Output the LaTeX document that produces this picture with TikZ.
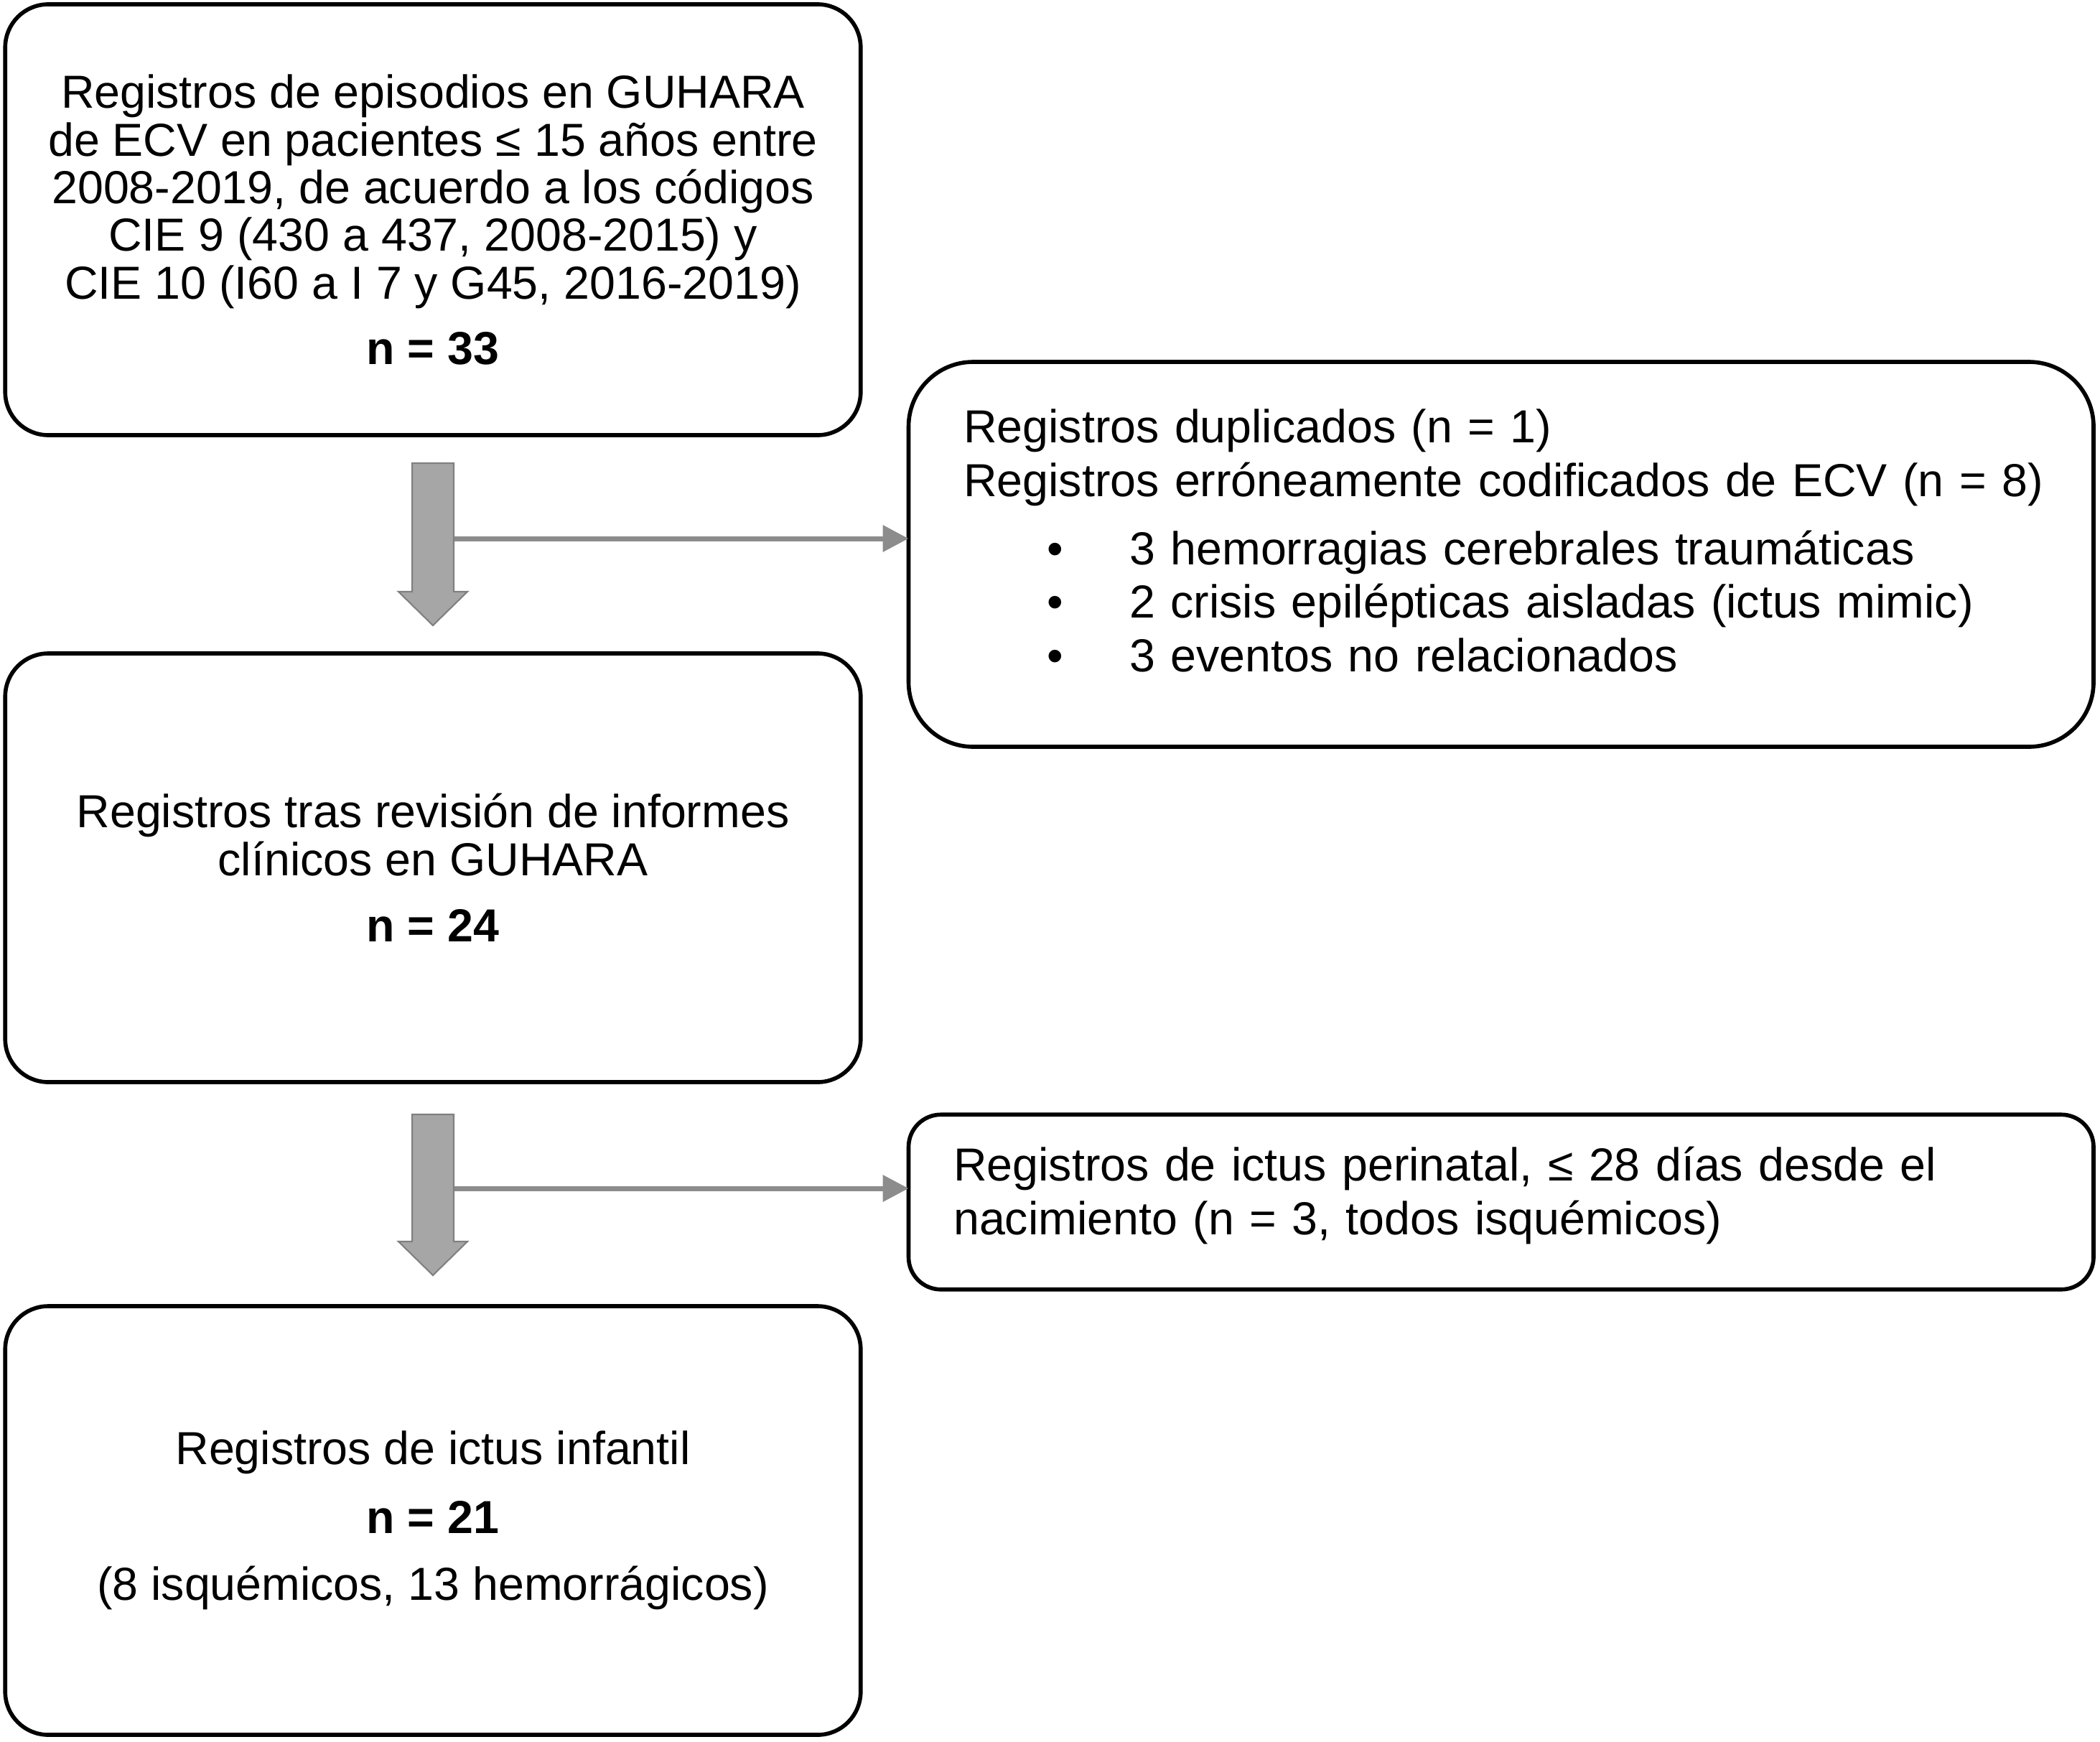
\documentclass[tikz,border=0pt]{standalone}
\usepackage{fontspec}
\setmainfont{Liberation Sans}
\usepackage{tikz}
\usetikzlibrary{arrows.meta,calc,positioning}
\definecolor{ink}{HTML}{000000}
\definecolor{arrowfill}{HTML}{A6A6A6}
\definecolor{arrowline}{HTML}{808080}
\definecolor{connline}{HTML}{8C8C8C}

\begin{document}
\begin{tikzpicture}[>=Latex,
  mainbox/.style={draw=ink,line width=1.6pt,outer sep=0pt,rounded corners=0.6cm,minimum width=11.915cm,minimum height=5.97cm,align=center,font=\fontsize{18.35}{18.9}\selectfont},
  sidebox/.style={draw=ink,line width=1.6pt,outer sep=0pt,align=left,minimum width=16.505cm,font=\fontsize{18.35}{21.2}\selectfont},
  blockarrow/.style={fill=arrowfill,draw=arrowline,line width=0.6pt,line join=miter},
  thinarrow/.style={draw=connline,line width=0.07cm,-{Triangle[length=0.36cm,width=0.36cm]}}]
\useasboundingbox (0,0) rectangle (29.25,-24.25);

% left column
\node[mainbox,minimum height=6cm] (reg) at (6.03,-3.06) {Registros de episodios en GUHARA\\de ECV en pacientes ≤ 15 años entre\\2008-2019, de acuerdo a los códigos\\CIE 9 (430 a 437, 2008-2015) y\\CIE 10 (I60 a I 7 y G45, 2016-2019)\\[7pt]\textbf{n = 33}};
\node[mainbox] (rev) at (6.03,-12.085) {Registros tras revisión de informes\\clínicos en GUHARA\\[7.5pt]\textbf{n = 24}};
\node[mainbox] (res) at (6.03,-21.175) {Registros de ictus infantil\\[8.3pt]\textbf{n = 21}\\[7.8pt](8 isquémicos, 13 hemorrágicos)};

% excluded records
\node[sidebox,rounded corners=0.9cm,text width=14.97cm,inner xsep=0.765cm,minimum height=5.36cm] (dup) at (20.9075,-7.72) {Registros duplicados (n = 1)\\\mbox{Registros erróneamente codificados de ECV (n = 8)}\\[5.8pt]
\hspace*{1.165cm}\makebox[1.145cm][l]{\textbullet}3 hemorragias cerebrales traumáticas\\
\hspace*{1.165cm}\makebox[1.145cm][l]{\textbullet}2 crisis epilépticas aisladas (ictus mimic)\\
\hspace*{1.165cm}\makebox[1.145cm][l]{\textbullet}3 eventos no relacionados\rule[-11pt]{0pt}{1pt}};
\node[sidebox,rounded corners=0.45cm,text width=15.25cm,inner xsep=0.625cm,minimum height=2.435cm] (peri) at (20.9075,-16.74) {Registros de ictus perinatal, ≤ 28 días desde el\\nacimiento (n = 3, todos isquémicos)\rule[-9pt]{0pt}{1pt}};

% arrows
\coordinate (a1top) at ($(reg.south)+(0,-0.39)$);
\coordinate (a1tip) at ($(rev.north)+(0,0.39)$);
\coordinate (h1) at ([shift={(0.29,-1.05)}]a1top);
\draw[thinarrow] (h1) -- (h1 -| dup.west);
\draw[blockarrow] ([xshift=-0.29cm]a1top) -- ([xshift=0.29cm]a1top) -- ([shift={(0.29,0.47)}]a1tip) -- ([shift={(0.48,0.47)}]a1tip) -- (a1tip) -- ([shift={(-0.48,0.47)}]a1tip) -- ([shift={(-0.29,0.47)}]a1tip) -- cycle;

\coordinate (a2top) at ($(rev.south)+(0,-0.45)$);
\coordinate (a2tip) at ($(res.north)+(0,0.43)$);
\coordinate (h2) at ([shift={(0.29,-1.03)}]a2top);
\draw[thinarrow] (h2) -- (h2 -| peri.west);
\draw[blockarrow] ([xshift=-0.29cm]a2top) -- ([xshift=0.29cm]a2top) -- ([shift={(0.29,0.47)}]a2tip) -- ([shift={(0.48,0.47)}]a2tip) -- (a2tip) -- ([shift={(-0.48,0.47)}]a2tip) -- ([shift={(-0.29,0.47)}]a2tip) -- cycle;
\end{tikzpicture}
\end{document}
